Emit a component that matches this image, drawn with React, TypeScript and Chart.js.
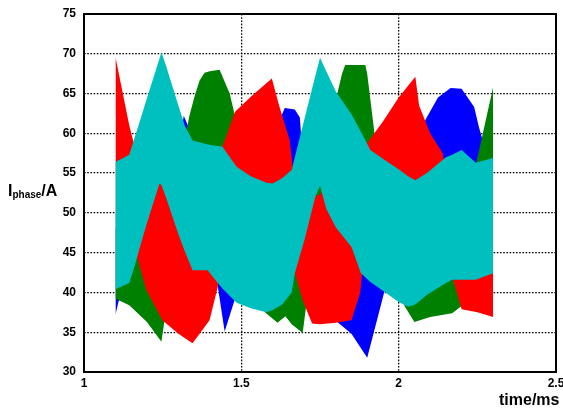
import React, { useEffect, useRef } from "react";
import { Chart, registerables } from "chart.js";

Chart.register(...registerables);

// Tick values
const xTicks = [1, 1.5, 2, 2.5];
const yTicks = [30, 35, 40, 45, 50, 55, 60, 65, 70, 75];

// Phase-current envelopes (time in ms, current in A)
const cyanT = [1.10, 1.144, 1.166, 1.175, 1.20, 1.24, 1.246, 1.26, 1.30, 1.32, 1.345, 1.393, 1.425, 1.44, 1.485, 1.53, 1.58, 1.60, 1.63, 1.66, 1.67, 1.70, 1.735, 1.75, 1.77, 1.80, 1.85, 1.88, 1.91, 1.958, 2.00, 2.03, 2.053, 2.09, 2.15, 2.17, 2.20, 2.245, 2.30];
const cyanHi = [56.4, 57.3, 60.1, 61.2, 64.4, 69.4, 70.2, 68.6, 63.5, 61.0, 59.1, 58.6, 58.4, 58.3, 55.8, 54.6, 53.8, 53.7, 54.4, 55.4, 57.0, 61.7, 67.2, 69.5, 67.8, 65.3, 62.4, 60.2, 57.9, 56.6, 55.5, 54.6, 54.1, 55.0, 57.0, 57.3, 57.9, 56.3, 56.9];
const cyanLo = [40.4, 41.2, 44, 45.3, 48.7, 53.7, 53.5, 52, 47.3, 45.2, 42.8, 42.8, 41.2, 40.5, 38.7, 38.0, 37.5, 37.8, 38.5, 40.0, 42.4, 46.5, 52, 53.4, 50.5, 48.2, 45.7, 42.4, 41.3, 40, 38.8, 38.2, 38.5, 39.7, 41.2, 41.6, 41.6, 41.6, 42.4];

const redT = [1.10, 1.144, 1.16, 1.169, 1.198, 1.249, 1.30, 1.345, 1.399, 1.425, 1.437, 1.44, 1.48, 1.53, 1.597, 1.62, 1.654, 1.665, 1.67, 1.695, 1.725, 1.75, 1.80, 1.85, 1.878, 1.885, 1.894, 1.90, 1.95, 2.00, 2.053, 2.065, 2.10, 2.14, 2.155, 2.17, 2.20, 2.25, 2.30];
const redHi = [69.6, 61.0, 58.5, 57, 56, 56, 55, 52, 52, 54, 57.5, 58.3, 62.7, 64.6, 66.9, 63.5, 59.1, 55, 54, 52, 52, 52.3, 56, 57, 57, 57.3, 57.8, 58.8, 61.5, 64.5, 67.1, 63.5, 60, 57.5, 54, 50, 48, 48, 48];
const redLo = [50, 48, 47, 44.4, 40.3, 36.5, 34.8, 33.6, 36.5, 40.7, 46, 48, 48, 48, 48, 48, 47, 44, 42.4, 39, 36.1, 36, 36.2, 36.5, 40, 43, 50, 50, 50, 50, 50, 50, 50, 50, 47, 42, 37.9, 37.5, 36.9];

const greenT = [1.10, 1.144, 1.20, 1.246, 1.256, 1.28, 1.30, 1.317, 1.326, 1.335, 1.351, 1.367, 1.383, 1.40, 1.431, 1.463, 1.479, 1.50, 1.56, 1.575, 1.615, 1.64, 1.66, 1.695, 1.705, 1.75, 1.79, 1.808, 1.82, 1.83, 1.894, 1.90, 1.926, 1.94, 1.96, 2.00, 2.02, 2.05, 2.10, 2.17, 2.20, 2.245, 2.30];
const greenHi = [48, 50, 52, 55, 55, 55, 56, 58, 60.4, 62.2, 64.6, 66.6, 67.6, 67.8, 68, 65, 62.3, 60, 58, 58, 58, 56, 54, 55, 56, 58, 62, 65.5, 67.5, 68.6, 68.6, 67.5, 59.1, 55, 53, 53, 53, 53, 53, 53, 53, 56, 65.8];
const greenLo = [39.2, 38.4, 36.3, 33.8, 36.5, 40, 42, 44, 45, 45, 45, 45, 45, 44, 42, 40.5, 40, 39.5, 38.5, 37.5, 36.2, 37, 36, 34.9, 38, 40, 42, 42, 42, 42, 44, 44, 44, 44, 42, 40, 38.2, 36.3, 36.9, 37.4, 38.3, 38.3, 38];

const blueT = [1.10, 1.11, 1.14, 1.20, 1.246, 1.30, 1.317, 1.335, 1.36, 1.40, 1.425, 1.447, 1.48, 1.50, 1.60, 1.625, 1.638, 1.67, 1.686, 1.695, 1.75, 1.78, 1.805, 1.85, 1.90, 1.95, 1.96, 2.00, 2.06, 2.085, 2.125, 2.165, 2.20, 2.24, 2.255, 2.275, 2.30];
const blueHi = [50, 50, 50, 52, 54, 58, 62.2, 60.5, 56, 55, 55, 55, 57, 58, 60, 62, 63.2, 63, 62, 57, 55, 55, 55, 55, 55, 53, 52, 52, 58, 61.7, 64.5, 65.7, 65.6, 63.3, 60.8, 58, 57];
const blueLo = [37.2, 38.9, 41, 42, 42, 42, 44, 44, 44, 45, 40.8, 35.1, 39.2, 42, 42, 42, 42, 44, 44, 44, 40, 38, 36.3, 34.8, 31.8, 39.4, 41, 42, 44, 45, 45, 45, 45, 45, 45, 45, 45];

const pts = (t: number[], v: number[]) => t.map((x, i) => ({ x, y: v[i] }));

function band(name: string, t: number[], hi: number[], lo: number[], color: string) {
  const common = {
    borderColor: "rgba(0,0,0,0)",
    backgroundColor: color,
    borderWidth: 0,
    pointRadius: 0,
    tension: 0,
  };
  return [
    { label: name + " min", data: pts(t, lo), fill: false, ...common },
    { label: name + " max", data: pts(t, hi), fill: "-1", ...common },
  ];
}

const framePlugin = {
  id: "frame",
  afterDraw(chart: any) {
    const { ctx, chartArea: a } = chart;
    ctx.save();
    ctx.setLineDash([]);
    ctx.strokeStyle = "#000";
    ctx.lineWidth = 2;
    ctx.strokeRect(a.left, a.top, a.right - a.left, a.bottom - a.top);
    ctx.restore();
  },
};

const FONT = "'Liberation Sans', Arial, sans-serif";

export default function App() {
  const ref = useRef<HTMLCanvasElement | null>(null);

  useEffect(() => {
    document.body.style.margin = "0";
    if (!ref.current) return;
    const datasets: any[] = [
      ...band("phase c", cyanT, cyanHi, cyanLo, "#00bfbf"),
      ...band("phase a", redT, redHi, redLo, "#ff0000"),
      ...band("phase b", greenT, greenHi, greenLo, "#008000"),
      ...band("phase d", blueT, blueHi, blueLo, "#0000ff"),
    ];
    const chart = new Chart(ref.current, {
      type: "line",
      data: { datasets },
      plugins: [framePlugin],
      options: {
        animation: false,
        responsive: false,
        events: [],
        layout: { padding: { left: 0, right: 7, top: 14, bottom: 0 } },
        plugins: { legend: { display: false }, tooltip: { enabled: false } },
        scales: {
          x: {
            type: "linear",
            min: 1,
            max: 2.5,
            afterBuildTicks: (s: any) => {
              s.ticks = xTicks.map((v) => ({ value: v }));
            },
            afterFit: (s: any) => {
              s.height = 38;
              s.paddingLeft = 0;
              s.paddingRight = 0;
            },
            ticks: {
              autoSkip: false,
              maxRotation: 0,
              padding: 4,
              color: "#000",
              font: { family: FONT, size: 12, weight: "bold" },
              callback: (v: any) => String(v),
            },
            grid: { color: "#000", lineWidth: 1.3, drawTicks: false },
            border: { display: false, dash: [1.6, 1.6] },
          },
          y: {
            type: "linear",
            min: 30,
            max: 75,
            afterBuildTicks: (s: any) => {
              s.ticks = yTicks.map((v) => ({ value: v }));
            },
            afterFit: (s: any) => {
              s.width = 84;
              s.paddingTop = 0;
              s.paddingBottom = 0;
            },
            ticks: {
              autoSkip: false,
              padding: 8,
              color: "#000",
              font: { family: FONT, size: 12, weight: "bold" },
              callback: (v: any) => String(v),
            },
            grid: { color: "#000", lineWidth: 1.3, drawTicks: false },
            border: { display: false, dash: [1.6, 1.6] },
          },
        },
      },
    } as any);
    return () => chart.destroy();
  }, []);

  return (
    <div style={{ position: "relative", width: 563, height: 410, overflow: "hidden", background: "#fff" }}>
      <canvas ref={ref} width={563} height={410} style={{ display: "block" }} />
      <div
        style={{
          position: "absolute",
          left: 8,
          top: 183,
          fontFamily: FONT,
          fontWeight: "bold",
          fontSize: 16,
          lineHeight: 1,
          color: "#000",
          whiteSpace: "nowrap",
        }}
      >
        I<span style={{ fontSize: 10, verticalAlign: "-2px", lineHeight: 0 }}>phase</span>/A
      </div>
      <div
        style={{
          position: "absolute",
          left: 499,
          top: 392,
          fontFamily: FONT,
          fontWeight: "bold",
          fontSize: 16,
          lineHeight: 1,
          color: "#000",
          whiteSpace: "nowrap",
        }}
      >
        time/ms
      </div>
    </div>
  );
}
